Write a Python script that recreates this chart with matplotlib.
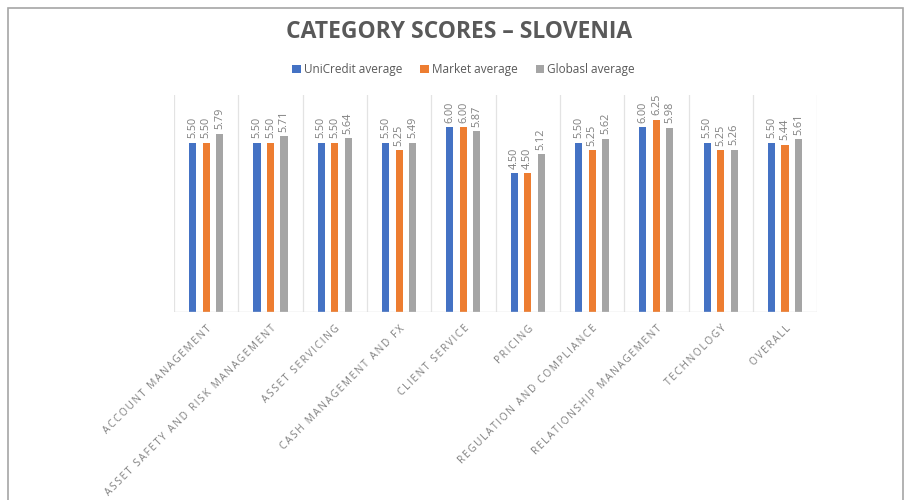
import matplotlib.pyplot as plt
import numpy as np
from matplotlib.patches import Rectangle

categorias = ['ACCOUNT MANAGEMENT', 'ASSET SAFETY AND RISK MANAGEMENT', 'ASSET SERVICING',
              'CASH MANAGEMENT AND FX', 'CLIENT SERVICE', 'PRICING',
              'REGULATION AND COMPLIANCE', 'RELATIONSHIP MANAGEMENT', 'TECHNOLOGY', 'OVERALL']
unicredit = [5.50, 5.50, 5.50, 5.50, 6.00, 4.50, 5.50, 6.00, 5.50, 5.50]
mercado = [5.50, 5.50, 5.50, 5.25, 6.00, 4.50, 5.25, 6.25, 5.25, 5.44]
global_avg = [5.79, 5.71, 5.64, 5.49, 5.87, 5.12, 5.62, 5.98, 5.26, 5.61]
series = ['UniCredit average', 'Market average', 'Globasl average']
colores = ['#4472C4', '#ED7D31', '#A5A5A5']

plt.rcParams['font.family'] = ['Open Sans', 'DejaVu Sans']

fig = plt.figure(figsize=(9.11, 5.0), dpi=100)
fig.patches.append(Rectangle((0.009, -0.01), 0.982, 0.995, transform=fig.transFigure,
                             fill=False, edgecolor='#a6a6a6', linewidth=1.2))
ax = fig.add_axes([0.191, 0.376, 0.706, 0.434])

x = np.arange(len(categorias))
ancho = 0.11
paso = 0.21
for k, (vals, col) in enumerate(zip([unicredit, mercado, global_avg], colores)):
    pos = x + (k - 1) * paso
    ax.bar(pos, vals, width=ancho, color=col, label=series[k], zorder=3)
    for p, v in zip(pos, vals):
        ax.text(p, v + 0.15, '%.2f' % v, rotation=90, ha='center', va='bottom',
                fontsize=7.8, color='#7f7f7f')

ax.set_xlim(-0.5, len(categorias) - 0.5)
ax.set_ylim(0, 7.05)
for b in np.arange(-0.5, len(categorias), 1):
    ax.axvline(b, color='#e3e3e3', linewidth=0.9, zorder=1)
for s in ax.spines.values():
    s.set_visible(False)
ax.axhline(0, color='#d9d9d9', linewidth=1.0, zorder=4)
ax.set_yticks([])
ax.set_xticks(x)
# espaciado entre letras como en el original
etiquetas = ['\u2009'.join(c) for c in categorias]
ax.set_xticklabels(etiquetas, rotation=45, ha='right', rotation_mode='anchor',
                   fontsize=7.3, color='#7f7f7f')
ax.tick_params(axis='x', length=0, pad=8)

fig.text(0.504, 0.935, 'CATEGORY SCORES – SLOVENIA', ha='center', va='center',
         fontsize=16.5, fontweight='bold', color='#595959')
fig.legend(loc='center', bbox_to_anchor=(0.509, 0.861), ncol=3, frameon=False,
           fontsize=8.5, handlelength=0.7, handleheight=0.7, columnspacing=1.5,
           handletextpad=0.3, labelcolor='#595959')

fig.savefig('out.png', dpi=100)
